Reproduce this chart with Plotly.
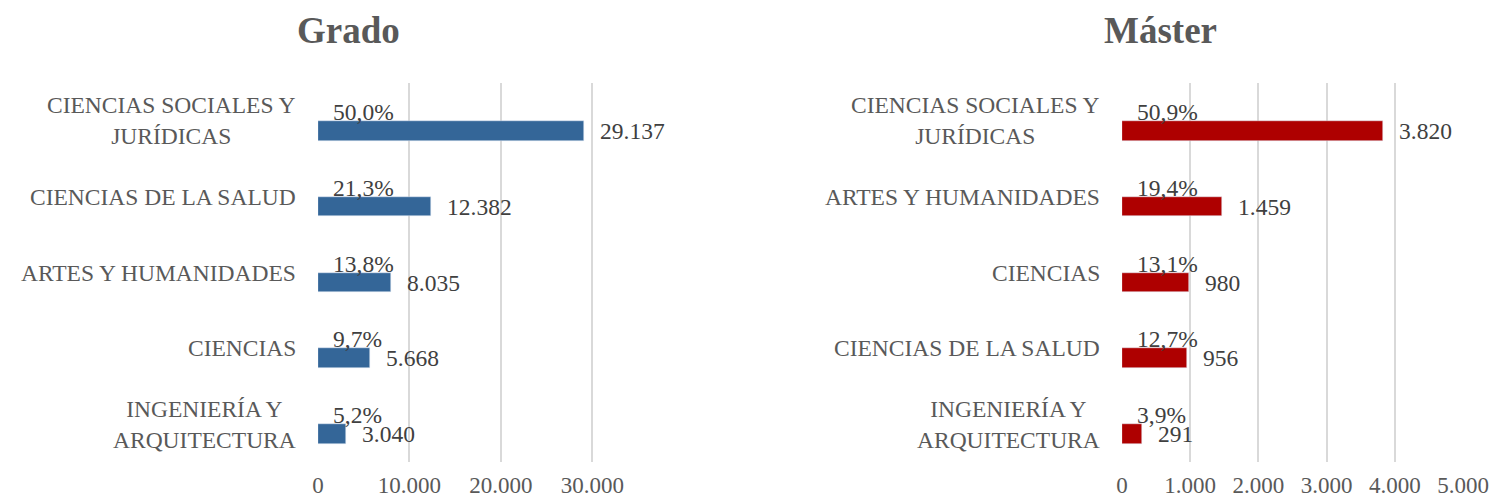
import plotly.graph_objects as go

# ---- data ----
grado_cats = ["CIENCIAS SOCIALES Y<br>JURÍDICAS", "CIENCIAS DE LA SALUD", "ARTES Y HUMANIDADES",
              "CIENCIAS", "INGENIERÍA Y<br>ARQUITECTURA"]
grado_vals = [29137, 12382, 8035, 5668, 3040]
grado_pct = ["50,0%", "21,3%", "13,8%", "9,7%", "5,2%"]

master_cats = ["CIENCIAS SOCIALES Y<br>JURÍDICAS", "ARTES Y HUMANIDADES", "CIENCIAS",
               "CIENCIAS DE LA SALUD", "INGENIERÍA Y<br>ARQUITECTURA"]
master_vals = [3820, 1459, 980, 956, 291]
master_pct = ["50,9%", "19,4%", "13,1%", "12,7%", "3,9%"]

grado_ticks = [0, 10000, 20000, 30000]
master_ticks = [0, 1000, 2000, 3000, 4000, 5000]

W, H = 1493, 501
FONT = "Liberation Serif"
BLUE = "#346698"
RED = "#AE0000"
GRID = "#D9D9D9"
TXT = "#595959"
DTXT = "#404040"


def fmt(v):
    return f"{v:,}".replace(",", ".")


fig = go.Figure()

fig.add_trace(go.Bar(x=grado_vals, y=grado_cats, orientation="h", marker_color=BLUE,
                     width=0.26, offset=0, xaxis="x", yaxis="y", hoverinfo="skip"))
fig.add_trace(go.Bar(x=master_vals, y=master_cats, orientation="h", marker_color=RED,
                     width=0.26, offset=0, xaxis="x2", yaxis="y2", hoverinfo="skip"))

ann = []
for cats, vals, pcts, xr, yr in [(grado_cats, grado_vals, grado_pct, "x", "y"),
                                 (master_cats, master_vals, master_pct, "x2", "y2")]:
    for c, v, p in zip(cats, vals, pcts):
        ann.append(dict(x=0, y=c, xref=xr, yref=yr, text=p, showarrow=False,
                        xanchor="left", yanchor="middle", xshift=13, yshift=9,
                        font=dict(family=FONT, size=23.5, color=DTXT)))
        ann.append(dict(x=v, y=c, xref=xr, yref=yr, text=fmt(v), showarrow=False,
                        xanchor="left", yanchor="middle", xshift=14, yshift=-10,
                        font=dict(family=FONT, size=23.5, color=DTXT)))
        ann.append(dict(x=0, y=c, xref=xr + " domain", yref=yr, text=c, showarrow=False,
                        xanchor="right", yanchor="middle", xshift=-20, align="center",
                        font=dict(family=FONT, size=23.5, color=TXT)))

ann.append(dict(x=348 / W, y=1 - 30 / H, xref="paper", yref="paper", text="<b>Grado</b>",
                showarrow=False, xanchor="center", yanchor="middle",
                font=dict(family=FONT, size=37, color=TXT)))
ann.append(dict(x=1160 / W, y=1 - 30 / H, xref="paper", yref="paper", text="<b>Máster</b>",
                showarrow=False, xanchor="center", yanchor="middle",
                font=dict(family=FONT, size=37, color=TXT)))

ydom = [1 - 462 / H, 1 - 83 / H]
xaxis_common = dict(showgrid=True, gridcolor=GRID, gridwidth=1.5, zeroline=False, showline=False,
                    tickfont=dict(family=FONT, size=23, color=TXT), tickformat=",d",
                    ticklabelstandoff=7, fixedrange=True, automargin=False)
yaxis_common = dict(showticklabels=False, showgrid=False, zeroline=False, showline=False,
                    autorange="reversed", fixedrange=True, automargin=False)

fig.update_layout(
    width=W, height=H, autosize=False,
    margin=dict(l=0, r=0, t=0, b=0, pad=0),
    paper_bgcolor="white", plot_bgcolor="white",
    showlegend=False,
    separators=",.",
    bargap=0,
    xaxis=dict(domain=[318 / W, 638 / W], range=[0, 35000], tickvals=grado_ticks,
               anchor="y", **xaxis_common),
    yaxis=dict(domain=ydom, anchor="x", categoryorder="array", categoryarray=grado_cats,
               **yaxis_common),
    xaxis2=dict(domain=[1122 / W, 1463 / W], range=[0, 5000], tickvals=master_ticks,
                anchor="y2", **xaxis_common),
    yaxis2=dict(domain=ydom, anchor="x2", categoryorder="array", categoryarray=master_cats,
                **yaxis_common),
    annotations=ann,
)

post = (
    "document.documentElement.style.overflow='hidden';"
    "document.body.style.margin='0';"
    "document.body.style.overflow='hidden';"
)

fig.write_html("out.html", config={"displayModeBar": False}, post_script=post)
